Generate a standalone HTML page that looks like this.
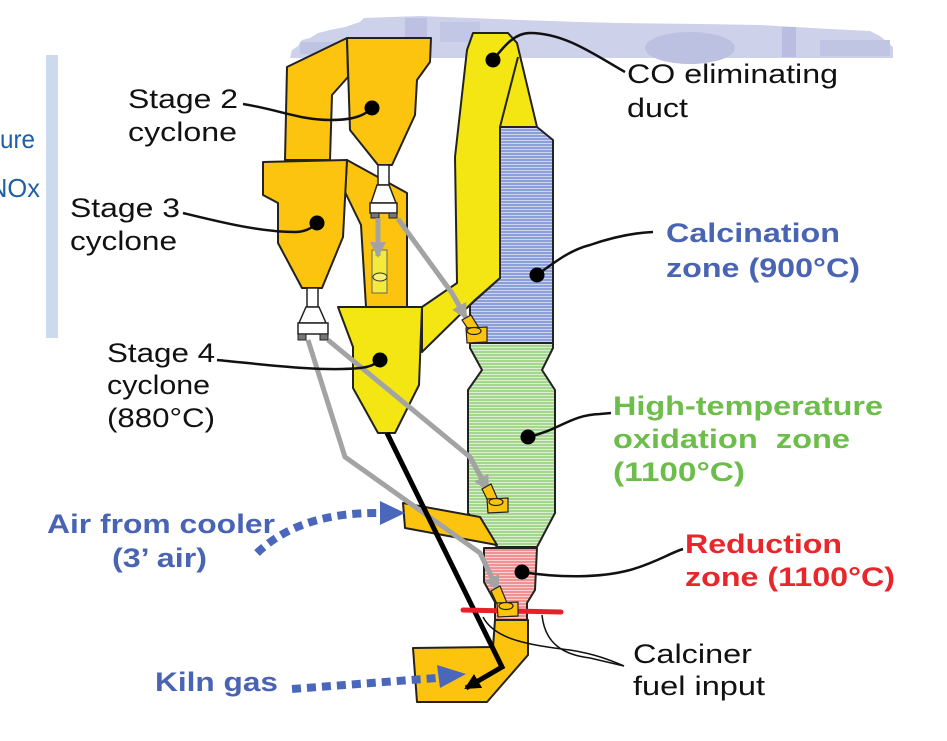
<!DOCTYPE html>
<html><head><meta charset="utf-8"><style>
html,body{margin:0;padding:0;background:#fff;}
svg{display:block;}
text{font-family:"Liberation Sans",Arial,sans-serif;}
</style></head><body>
<svg width="947" height="741" viewBox="0 0 947 741" xmlns="http://www.w3.org/2000/svg">
<defs>
<pattern id="pb" width="6" height="3" patternUnits="userSpaceOnUse"><rect width="6" height="3" fill="#cdd4f0"/><rect width="6" height="2" fill="#8d9fd9"/></pattern>
<pattern id="pg" width="6" height="3" patternUnits="userSpaceOnUse"><rect width="6" height="3" fill="#d9efcf"/><rect width="6" height="2" fill="#a5d68e"/></pattern>
<pattern id="pr" width="6" height="3" patternUnits="userSpaceOnUse"><rect width="6" height="3" fill="#fad0d0"/><rect width="6" height="2" fill="#f09193"/></pattern>
<marker id="ga" markerUnits="userSpaceOnUse" markerWidth="20" markerHeight="20" refX="14" refY="8" orient="auto"><path d="M0,0 L16,8 L0,16 z" fill="#a3a3a3"/></marker>
<marker id="ba" markerUnits="userSpaceOnUse" markerWidth="20" markerHeight="20" refX="14" refY="8" orient="auto"><path d="M0,0 L16,8 L0,16 z" fill="#000"/></marker>
</defs>

<!-- banner -->
<polygon points="290,58 292,50 298,46 302,40 310,38 318,33 330,30 345,27 360,22 364,18 420,16 470,18 520,20 580,22 620,23 700,24 760,25 830,29 870,31 880,36 893,47 893,58" fill="#cdd1ea"/>
<rect x="405" y="18" width="22" height="30" fill="#bcc1e2"/>
<rect x="440" y="22" width="40" height="20" fill="#c2c7e5"/>
<rect x="300" y="42" width="60" height="12" fill="#bfc4e3"/>
<ellipse cx="690" cy="48" rx="45" ry="16" fill="#bcc1e2"/>
<rect x="782" y="27" width="14" height="30" fill="#b9bee0"/>
<rect x="820" y="40" width="70" height="16" fill="#c0c5e4"/>

<!-- left bar and cut text -->
<rect x="46" y="55" width="12" height="283" fill="#ccdaef"/>
<text x="0" y="148" font-size="26" fill="#1f5fa3" textLength="35" lengthAdjust="spacingAndGlyphs">ure</text>
<text x="-11" y="197" font-size="26" fill="#1f5fa3" textLength="51" lengthAdjust="spacingAndGlyphs">NOx</text>

<g stroke="#222" stroke-width="2" stroke-linejoin="round">
<!-- blue calcination -->
<polygon points="500,127 537,127 553,140 553,343 470,343 470,305 500,278" fill="url(#pb)"/>
<!-- green -->
<polygon points="470,343 553,343 553,348 542,370 555,390 555,513 537,547 497,547 468,513 468,390 482,370 470,348" fill="url(#pg)"/>
<!-- red -->
<polygon points="484,548 537,548 535,590 527,603 527,620 495,620 495,602 484,582" fill="url(#pr)"/>
<!-- 3' air duct -->
<polygon points="403,503 480,517 497,545 405,528" fill="#fcc40e"/>
<!-- kiln riser -->
<polygon points="495,620 528,620 528,655 487,702 417,702 413,648 493,647" fill="#fcc40e"/>
<!-- big yellow duct -->
<polygon points="467,50 473,33 508,33 517,43 537,127 500,127 500,278 475,300 422,352 422,307 457,283 455,157" fill="#f3e612"/>
<line x1="518" y1="57" x2="500" y2="127"/>
<!-- stage 2 duct -->
<polygon points="287,67 347,38 348,77 332,95 330,160 285,160" fill="#fcc40e"/>
<!-- stage 2 cyclone -->
<polygon points="347,38 431,38 430,62 417,80 415,115 392,165 378,165 350,130" fill="#fcc40e"/>
<!-- riser pipe -->
<polygon points="347,160 407,193 407,307 366,307 361,225 345,192" fill="#fcc40e"/>
<!-- stage 3 cyclone -->
<polygon points="263,162 347,160 343,237 322,288 302,288 278,243 278,203 263,195" fill="#fcc40e"/>
<!-- stage 4 cyclone -->
<polygon points="338,307 422,307 419,385 395,433 378,433 353,388 353,347" fill="#f3e612"/>
</g>

<!-- splitters -->
<g stroke="#222" stroke-width="1.5" fill="#fff">
<rect x="378" y="165" width="11" height="20"/>
<polygon points="377,185 389,185 396,203 371,203"/>
<rect x="370" y="203" width="27" height="10"/>
<rect x="307" y="288" width="11" height="19"/>
<polygon points="306,307 319,307 326,323 299,323"/>
<rect x="298" y="323" width="30" height="11"/>
</g>
<g fill="#777" stroke="#222" stroke-width="1">
<rect x="371" y="213" width="8" height="5"/>
<rect x="389" y="213" width="8" height="5"/>
<rect x="298" y="334" width="8" height="6"/>
<rect x="320" y="334" width="8" height="6"/>
</g>

<!-- yellow tube in pipe -->
<rect x="372" y="250" width="15" height="43" fill="#f4ea3a" stroke="#666" stroke-width="1"/>
<ellipse cx="380" cy="277" rx="7" ry="4" fill="#f8f070" stroke="#333" stroke-width="1"/>

<!-- gray arrows -->
<g fill="none" stroke="#a3a3a3" stroke-width="5" stroke-linejoin="round">
<path d="M378,218 L378,256" marker-end="url(#ga)"/>
<path d="M398,219 L452,293 L466,318" marker-end="url(#ga)"/>
<path d="M308,340 L345,457 L480,553 L498,590" marker-end="url(#ga)"/>
<path d="M328,340 L470,457 L488,490" marker-end="url(#ga)"/>
</g>

<!-- black arrow -->
<path d="M387,433 L502,667 L466,688" fill="none" stroke="#000" stroke-width="5" stroke-linejoin="miter" marker-end="url(#ba)"/>

<!-- red line -->
<line x1="463" y1="610" x2="561" y2="612" stroke="#e8202a" stroke-width="5" stroke-linecap="round"/>

<!-- small orange boxes -->
<g stroke="#222" stroke-width="1.2" fill="#fcc40e">
<polygon points="462,320 471,315 479,328 470,332"/>
<polygon points="466,328 487,327 487,342 467,343"/>
<ellipse cx="474" cy="331" rx="7" ry="3.5"/>
<polygon points="482,489 491,484 498,500 489,503"/>
<polygon points="487,499 508,498 508,512 488,513"/>
<ellipse cx="496" cy="502" rx="7" ry="3.5"/>
<polygon points="491,591 500,586 507,603 498,606"/>
<polygon points="497,603 518,602 518,616 498,617"/>
<ellipse cx="506" cy="606" rx="7" ry="3.5"/>
</g>

<!-- leader lines -->
<g fill="none" stroke="#111" stroke-width="2.5">
<path d="M243,104 C280,110 300,120 330,120 C355,120 365,115 372,108"/>
<path d="M183,213 C220,222 260,232 295,232 C305,232 312,228 317,223"/>
<path d="M217,360 C260,364 320,372 360,368 C370,367 376,364 380,360"/>
<path d="M493,60 C505,45 515,33 530,33 C565,33 595,55 625,72"/>
<path d="M537,275 C555,262 570,250 590,245 C610,238 630,233 653,232"/>
<path d="M528,437 C560,430 570,415 600,414 L611,413"/>
<path d="M522,572 C560,578 600,578 630,570 C655,563 670,553 683,549"/>
</g>
<g fill="none" stroke="#111" stroke-width="1.5">
<path d="M483,617 C495,640 530,645 570,650 C595,654 610,660 624,666"/>
<path d="M542,615 C545,645 565,655 590,658 L624,666"/>
</g>
<g fill="#000">
<circle cx="372" cy="108" r="7.5"/>
<circle cx="317" cy="223" r="7.5"/>
<circle cx="380" cy="360" r="7.5"/>
<circle cx="493" cy="60" r="7.5"/>
<circle cx="537" cy="275" r="7.5"/>
<circle cx="528" cy="437" r="7.5"/>
<circle cx="522" cy="572" r="7.5"/>
</g>

<!-- dotted blue arrows -->
<path d="M257,553 Q300,512 380,513" fill="none" stroke="#4a67bb" stroke-width="8" stroke-dasharray="9 6"/>
<polygon points="380,501 405,513 380,525" fill="#4a67bb"/>
<path d="M292,689 L437,678" fill="none" stroke="#4a67bb" stroke-width="8" stroke-dasharray="9 6"/>
<polygon points="437,665 466,674 440,688" fill="#4a67bb"/>

<!-- labels -->
<g font-size="27" fill="#111" lengthAdjust="spacingAndGlyphs">
<text x="128" y="108" textLength="110" lengthAdjust="spacingAndGlyphs">Stage 2</text>
<text x="128" y="141" textLength="109" lengthAdjust="spacingAndGlyphs">cyclone</text>
<text x="70" y="217" textLength="110" lengthAdjust="spacingAndGlyphs">Stage 3</text>
<text x="70" y="250" textLength="107" lengthAdjust="spacingAndGlyphs">cyclone</text>
<text x="107" y="362" textLength="108" lengthAdjust="spacingAndGlyphs">Stage 4</text>
<text x="107" y="394" textLength="103" lengthAdjust="spacingAndGlyphs">cyclone</text>
<text x="107" y="427" textLength="108" lengthAdjust="spacingAndGlyphs">(880°C)</text>
<text x="627" y="83" textLength="211" lengthAdjust="spacingAndGlyphs">CO eliminating</text>
<text x="627" y="117" textLength="61" lengthAdjust="spacingAndGlyphs">duct</text>
<text x="633" y="663" textLength="119" lengthAdjust="spacingAndGlyphs">Calciner</text>
<text x="633" y="695" textLength="132" lengthAdjust="spacingAndGlyphs">fuel input</text>
</g>
<g font-size="27" font-weight="bold">
<text x="666" y="242" fill="#4a64b4" textLength="174" lengthAdjust="spacingAndGlyphs">Calcination</text>
<text x="666" y="277" fill="#4a64b4" textLength="194" lengthAdjust="spacingAndGlyphs">zone (900°C)</text>
<text x="613" y="415" fill="#6cbd4a" textLength="270" lengthAdjust="spacingAndGlyphs">High-temperature</text>
<text x="613" y="448" fill="#6cbd4a" textLength="237" lengthAdjust="spacingAndGlyphs" xml:space="preserve">oxidation  zone</text>
<text x="613" y="481" fill="#6cbd4a" textLength="132" lengthAdjust="spacingAndGlyphs">(1100°C)</text>
<text x="685" y="553" fill="#e8262b" textLength="157" lengthAdjust="spacingAndGlyphs">Reduction</text>
<text x="685" y="586" fill="#e8262b" textLength="210" lengthAdjust="spacingAndGlyphs">zone (1100°C)</text>
<text x="47" y="533" fill="#4a64b4" textLength="228" lengthAdjust="spacingAndGlyphs">Air from cooler</text>
<text x="112" y="567" fill="#4a64b4" textLength="95" lengthAdjust="spacingAndGlyphs">(3’ air)</text>
<text x="155" y="691" fill="#4a64b4" textLength="123" lengthAdjust="spacingAndGlyphs">Kiln gas</text>
</g>
</svg>
</body></html>
